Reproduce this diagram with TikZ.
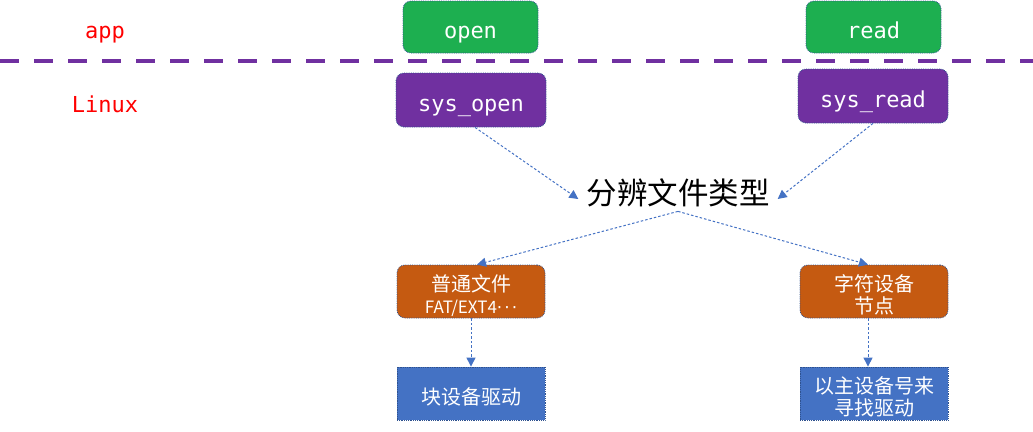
\documentclass[tikz,border=0pt]{standalone}
\usepackage{fontspec}
\setmonofont{DejaVu Sans Mono}
\newfontfamily\cjk{Noto Sans CJK SC}
\newfontfamily\dejavu{DejaVu Sans}
\usetikzlibrary{arrows.meta}
\definecolor{appgreen}{HTML}{1DAF50}
\definecolor{sysviolet}{HTML}{7030A0}
\definecolor{fileorange}{HTML}{C55A11}
\definecolor{drvblue}{HTML}{4472C4}
\definecolor{edgeblue}{HTML}{2F528F}
\newcommand{\cjklines}[1]{\raisebox{-11.5pt}[0pt][0pt]{\begin{tabular}{@{}c@{}}#1\end{tabular}}}
\newcommand{\middots}{{\dejavu ·\kern2pt·\kern2pt·}}
\tikzset{
  box/.style={draw=edgeblue, densely dotted, line width=0.8pt, text=white, minimum width=#1, inner sep=0pt},
  monotext/.style={font=\ttfamily\fontsize{22}{24}\selectfont, text height=12pt, text depth=0pt},
  monobox/.style={monotext, text height=22pt},
  appbox/.style={box=135pt, fill=appgreen, rounded corners=8pt, minimum height=52pt, monobox},
  sysbox/.style={box=150pt, fill=sysviolet, rounded corners=8pt, minimum height=54pt, monobox},
  filebox/.style={box=148pt, fill=fileorange, rounded corners=8pt, minimum height=53pt, font=\cjk\fontsize{20}{23}\selectfont},
  drvbox/.style={box=148pt, fill=drvblue, minimum height=53pt, font=\cjk\fontsize{20}{23}\selectfont},
  layer/.style={text=red, monotext},
  conn/.style={draw=drvblue, line width=1pt, dash pattern=on 2.5pt off 2pt, -{Triangle[length=9pt,width=9pt]}},
}
\begin{document}
\begin{tikzpicture}[x=1pt,y=-1pt]
\useasboundingbox (0,0) rectangle (1033,431);
\draw[sysviolet, line width=4pt, dash pattern=on 19pt off 15pt] (0,61) -- (1033,61);
\node[layer] (app) at (105,32.5) {app};
\node[layer] (linux) at (105,106) {Linux};
\node[appbox] (open) at (470.5,27) {open};
\node[appbox] (read) at (873.5,27) {read};
\node[sysbox] (sysopen) at (471,100) {sys\_open};
\node[sysbox] (sysread) at (873,96) {sys\_read};
\node[font=\cjk\fontsize{30.5}{32}\selectfont, inner xsep=8pt, inner ysep=4pt] (fenbian) at (678,193) {分辨文件类型};
\node[filebox] (putong) at (471,291.5) {\cjklines{普通文件\\[-1pt]{\fontsize{17}{20}\selectfont FAT/EXT4\middots}}};
\node[filebox] (zifu) at (874,291.5) {\cjklines{字符设备\\[-2pt]节点}};
\node[drvbox] (kuai) at (471,393.5) {\cjklines{块设备驱动}};
\node[drvbox] (yizhu) at (874,393.5) {\cjklines{以主设备号来\\[-2pt]寻找驱动}};
\draw[conn] ([xshift=4pt]sysopen.south) -- ([yshift=-6pt]fenbian.west);
\draw[conn] (sysread.south) -- ([yshift=-6pt]fenbian.east);
\draw[conn] (fenbian.south) -- ([xshift=6pt]putong.north);
\draw[conn] (fenbian.south) -- ([xshift=-6pt]zifu.north);
\draw[conn] (putong.south) -- (kuai.north);
\draw[conn] ([xshift=-6pt]zifu.south) -- ([xshift=-6pt]yizhu.north);
\end{tikzpicture}
\end{document}
